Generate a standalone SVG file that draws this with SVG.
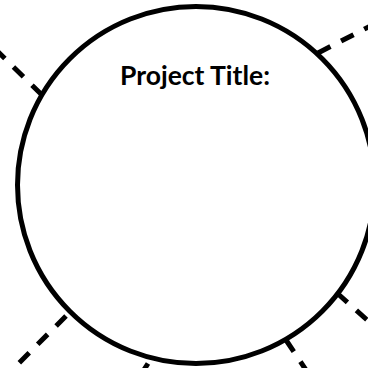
<svg xmlns="http://www.w3.org/2000/svg" width="368" height="368" viewBox="0 0 368 368">
<style>
.ring{fill:#fff;stroke:#000;stroke-width:5}
.dash{stroke:#000;stroke-width:5;stroke-dasharray:14 12;fill:none}
.title{font-family:Lato,"Open Sans",sans-serif;font-weight:bold;font-size:26.5px;fill:#000}
</style>
<rect width="368" height="368" fill="#fff"/>
<g id="connectors">
<line class="dash" x1="42" y1="95" x2="-10" y2="44"/>
<line class="dash" x1="318" y1="53" x2="380" y2="21"/>
<line class="dash" x1="66" y1="316" x2="10" y2="372"/>
<line class="dash" x1="337" y1="293" x2="375" y2="327"/>
<line class="dash" x1="286" y1="340" x2="306" y2="370"/>
<line class="dash" x1="148" y1="363.5" x2="143.5" y2="370.5"/>
</g>
<g id="project">
<circle class="ring" cx="196" cy="185" r="178.5"/>
<text class="title" x="195" y="85" text-anchor="middle">Project Title:</text>
</g>
</svg>
